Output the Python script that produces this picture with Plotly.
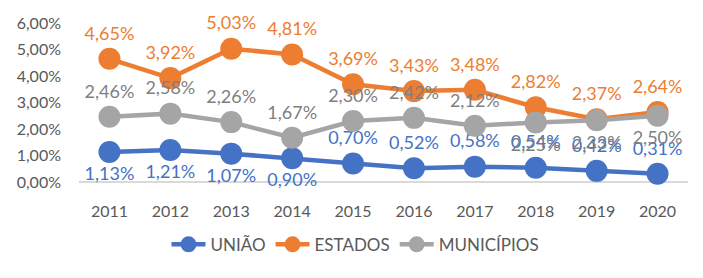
import plotly.graph_objects as go

years = ["2011", "2012", "2013", "2014", "2015", "2016", "2017", "2018", "2019", "2020"]
uniao = [1.13, 1.21, 1.07, 0.90, 0.70, 0.52, 0.58, 0.54, 0.42, 0.31]
estados = [4.65, 3.92, 5.03, 4.81, 3.69, 3.43, 3.48, 2.82, 2.37, 2.64]
municipios = [2.46, 2.58, 2.26, 1.67, 2.30, 2.42, 2.12, 2.25, 2.33, 2.50]

y_ticks = [0, 1, 2, 3, 4, 5, 6]
y_tick_labels = ["0,00%", "1,00%", "2,00%", "3,00%", "4,00%", "5,00%", "6,00%"]

uniao_pos = ["bottom center"] * 4 + ["top center"] * 6
estados_pos = ["top center"] * 10
mun_pos = ["top center"] * 7 + ["bottom center"] * 3

def fmt(v):
    return f"{v:.2f}%".replace(".", ",")

FONT = "Lato"
fig = go.Figure()
series = [
    ("UNIÃO", uniao, "#4472C4", "#4472C4", uniao_pos),
    ("ESTADOS", estados, "#ED7D31", "#ED7D31", estados_pos),
    ("MUNICÍPIOS", municipios, "#A5A5A5", "#7F7F7F", mun_pos),
]
for name, vals, col, tcol, pos in series:
    fig.add_trace(go.Scatter(
        x=years, y=vals, name=name, mode="lines+markers+text",
        line=dict(color=col, width=4.5),
        marker=dict(color=col, size=22),
        text=[fmt(v) for v in vals], textposition=pos,
        textfont=dict(color=tcol, size=18, family=FONT),
        cliponaxis=False,
    ))

fig.update_layout(
    width=695, height=270,
    margin=dict(l=71, r=15, t=15, b=96),
    paper_bgcolor="white", plot_bgcolor="white",
    font=dict(family=FONT, color="#595959", size=16),
    showlegend=True,
    legend=dict(orientation="h", x=0.454, xanchor="center",
                y=-0.395, yanchor="middle", itemwidth=34,
                font=dict(size=17, color="#595959", family=FONT)),
    xaxis=dict(range=[-0.5, 9.5], showgrid=False, showline=False, ticks="", zeroline=False,
               automargin=False,
               tickfont=dict(size=16, color="#595959"), ticklabelstandoff=18),
    yaxis=dict(range=[0, 6], tickvals=y_ticks, ticktext=y_tick_labels, showgrid=False,
               automargin=False,
               zeroline=True, zerolinecolor="#D9D9D9", zerolinewidth=2, showline=False,
               tickfont=dict(size=16, color="#595959"), ticklabelstandoff=17),
)
fig.write_html("out.html")
